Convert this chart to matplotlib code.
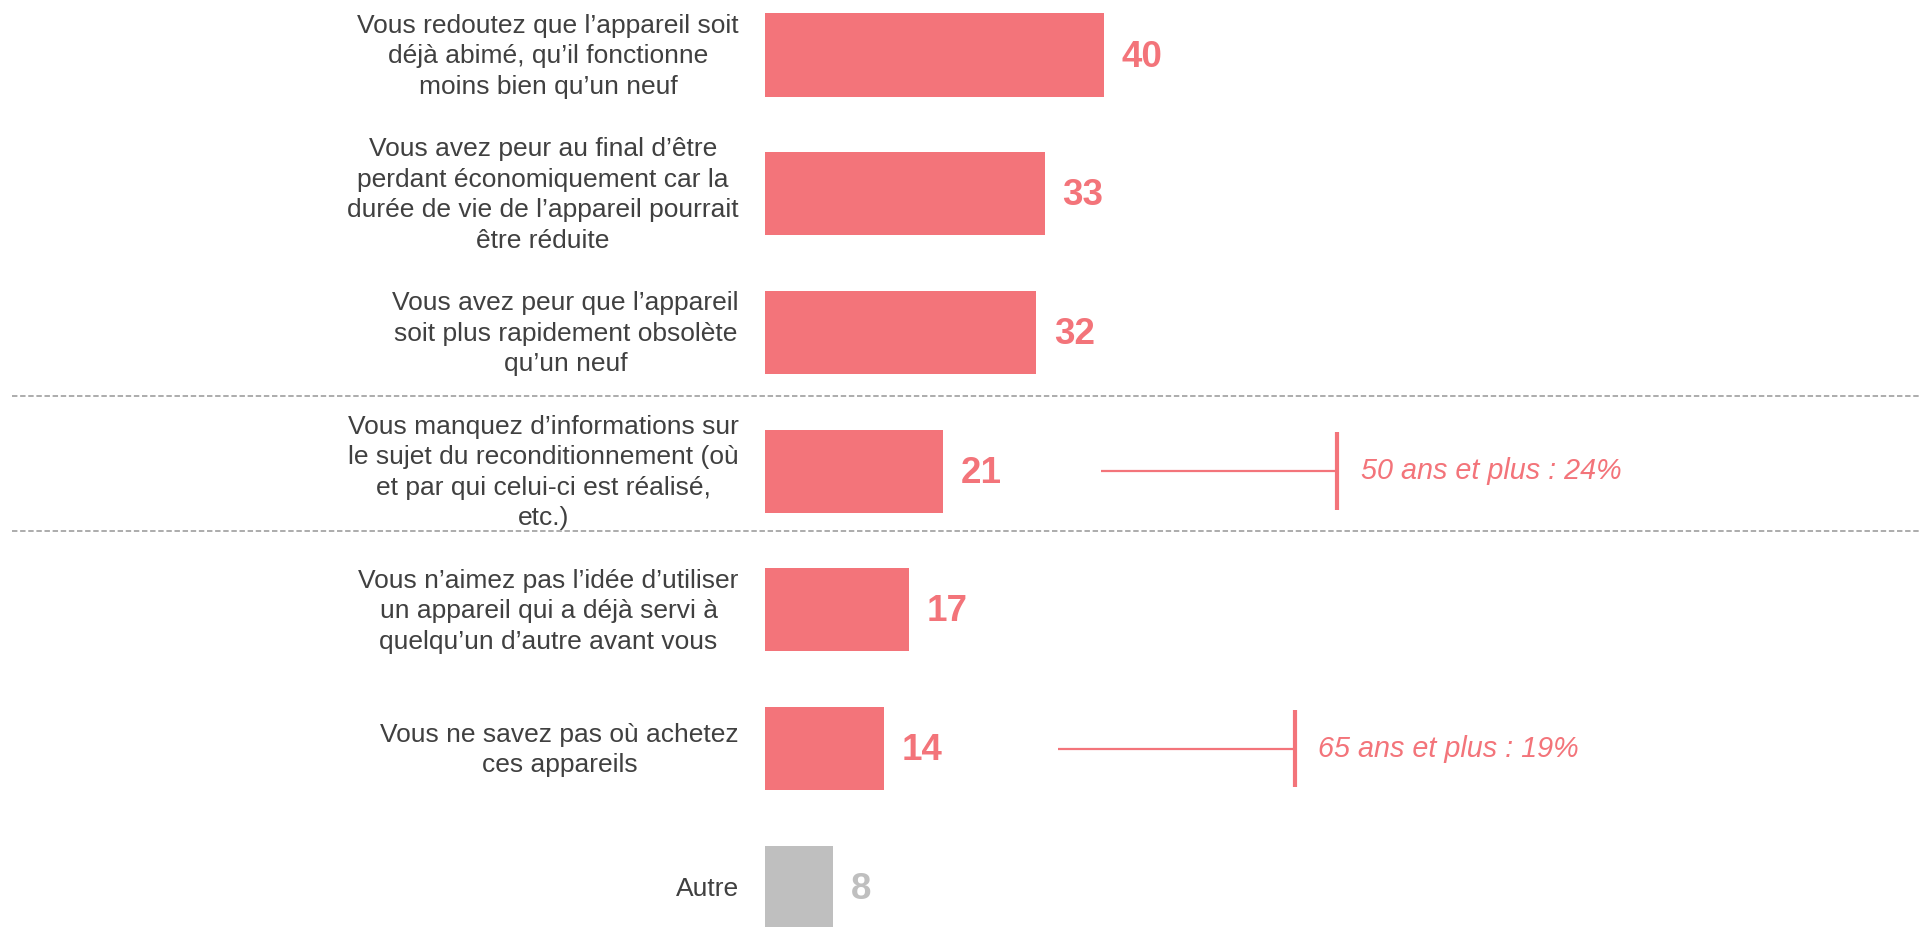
import matplotlib.pyplot as plt

plt.rcParams['font.family'] = ['Liberation Sans', 'DejaVu Sans']

# données du graphique
labels = [
    'Vous redoutez que l’appareil soit\ndéjà abimé, qu’il fonctionne\nmoins bien qu’un neuf',
    'Vous avez peur au final d’être\nperdant économiquement car la\ndurée de vie de l’appareil pourrait\nêtre réduite',
    'Vous avez peur que l’appareil\nsoit plus rapidement obsolète\nqu’un neuf',
    'Vous manquez d’informations sur\nle sujet du reconditionnement (où\net par qui celui-ci est réalisé,\netc.)',
    'Vous n’aimez pas l’idée d’utiliser\nun appareil qui a déjà servi à\nquelqu’un d’autre avant vous',
    'Vous ne savez pas où achetez\nces appareils',
    'Autre',
]
values = [40, 33, 32, 21, 17, 14, 8]
note_rows = [3, 5]
note_pct = [24, 19]
note_texts = ['50 ans et plus : 24%', '65 ans et plus : 19%']

pink = '#F3747A'
grey = '#BFBFBF'
text_col = '#404040'

fig = plt.figure(figsize=(19.19, 9.27), dpi=100)
ax = fig.add_axes([0, 0, 1, 1])
ax.set_xlim(-90.27, 136.17)
ax.set_ylim(6.287, -0.397)
ax.axis('off')

ypos = list(range(len(values)))
colors = [pink] * (len(values) - 1) + [grey]
ax.barh(ypos, values, height=0.6, color=colors)

for y, v, lab, c in zip(ypos, values, labels, colors):
    ax.text(v + 2.1, y + 0.015, str(v), ha='left', va='center', fontsize=26.5,
            fontweight='bold', color=c)
    ax.text(-3.1, y + 0.01, lab, ha='right', va='center', multialignment='center',
            fontsize=19, color=text_col, linespacing=1.34)

# lignes de séparation
for yl in [2.46, 3.435]:
    ax.hlines(yl, -88.85, 136.17, colors='#A6A6A6', linewidth=1.3,
              linestyles=(0, (3, 1.5)))

# annotations par âge
for r, p, t in zip(note_rows, note_pct, note_texts):
    x_end = p + 43.5
    ax.hlines(r, x_end - 27.9, x_end, colors=pink, linewidth=1.6)
    ax.vlines(x_end, r - 0.28, r + 0.28, colors=pink, linewidth=3)
    ax.text(x_end + 2.8, r, t, ha='left', va='center', fontsize=20.7,
            style='italic', color=pink)

fig.savefig('out.png', dpi=100)
